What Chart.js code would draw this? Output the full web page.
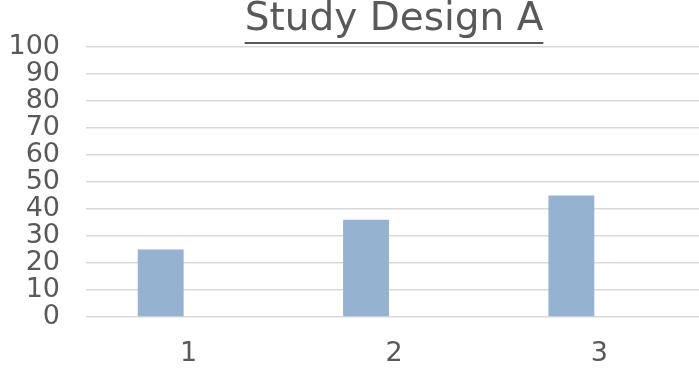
<!DOCTYPE html>
<html>
<head>
<meta charset="utf-8">
<script src="https://cdn.jsdelivr.net/npm/chart.js@4"></script>
<style>
  html, body { margin: 0; padding: 0; background: #fff; overflow: hidden; }
  #wrap { width: 699px; height: 368px; overflow: hidden; }
</style>
</head>
<body>
<div id="wrap"><canvas id="myChart" width="702" height="368"></canvas></div>
<script>
const chartTitle = "Study Design A";
const categories = ["1", "2", "3"];
const seriesA = [25, 36, 45];
const seriesB = [null, null, null]; // second series is empty in the original
const yMin = 0;
const yMax = 100;
const yStep = 10;

const textColor = "#595959";
const fontFamily = "'DejaVu Sans', sans-serif";
const titleSize = 39;

// the title is underlined in the original
const underlineTitle = {
  id: "underlineTitle",
  afterDraw(chart) {
    const t = chart.titleBlock;
    if (!t) return;
    const ctx = chart.ctx;
    ctx.save();
    ctx.font = titleSize + "px " + fontFamily;
    const w = ctx.measureText(chartTitle).width;
    const cx = (t.left + t.right) / 2;
    ctx.strokeStyle = textColor;
    ctx.lineWidth = 2;
    ctx.beginPath();
    ctx.moveTo(cx - w / 2, 43);
    ctx.lineTo(cx + w / 2, 43);
    ctx.stroke();
    ctx.restore();
  },
};

function generateChart() {
  const ctx = document.getElementById("myChart");

  new Chart(ctx, {
    type: "bar",
    data: {
      labels: [...categories],
      datasets: [
        {
          label: "Series 1",
          data: [...seriesA],
          backgroundColor: "#95b3d1",
          borderWidth: 0,
        },
        {
          label: "Series 2",
          data: [...seriesB],
          backgroundColor: "#4f81bd",
          borderWidth: 0,
        },
      ],
    },
    options: {
      responsive: false,
      animation: false,
      categoryPercentage: 0.545,
      barPercentage: 0.82,
      layout: {
        padding: { left: 8, right: 0, top: 0, bottom: 2 },
      },
      plugins: {
        legend: { display: false },
        tooltip: { enabled: false },
        title: {
          display: true,
          text: chartTitle,
          fullSize: false,
          color: textColor,
          font: { family: fontFamily, size: titleSize, weight: "normal", lineHeight: 1 },
          padding: { top: 0, bottom: 8 },
        },
      },
      scales: {
        x: {
          grid: { display: false, drawTicks: false },
          border: { display: false },
          ticks: {
            color: textColor,
            padding: 23,
            font: { family: fontFamily, size: 27, lineHeight: 1 },
          },
          afterFit: (scale) => {
            scale.height = 49;
          },
        },
        y: {
          min: yMin,
          max: yMax,
          grid: { color: "#d9d9d9", lineWidth: 1.5, drawTicks: false },
          border: { display: false },
          ticks: {
            stepSize: yStep,
            autoSkip: false,
            color: textColor,
            padding: 26,
            font: { family: fontFamily, size: 27, lineHeight: 1 },
          },
          afterFit: (scale) => {
            scale.width = 78;
          },
        },
      },
    },
    plugins: [underlineTitle],
  });
}

generateChart();
</script>
</body>
</html>
